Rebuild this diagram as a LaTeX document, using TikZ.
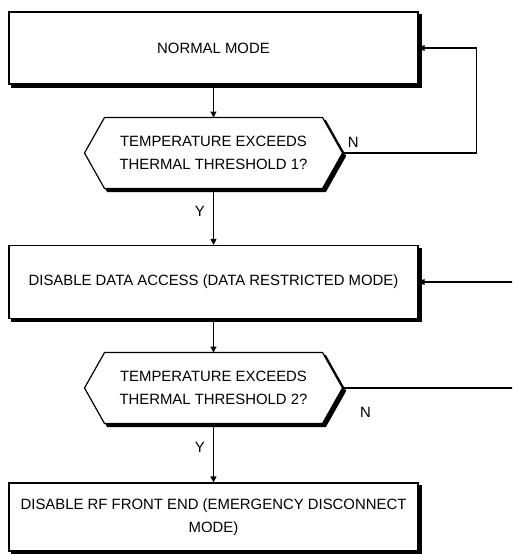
\documentclass[tikz,border=0pt]{standalone}
\usepackage{fontspec}
\setmainfont{Liberation Sans}
\usetikzlibrary{positioning}
\usetikzlibrary{arrows.meta}
\pgfdeclarelayer{background}
\pgfsetlayers{background,main}
\tikzset{	node distance=105pt,
	shadowed/.style={
		preaction={draw=black, fill=black, line width=1.2pt,
			transform canvas={xshift=3pt, yshift=-3pt}}},
	process/.style={
		draw,
		shadowed,
		line width=1.2pt,
		fill=white,
		minimum width=409pt,
		minimum height=72pt,
		font=\fontsize{14.9}{22.5}\selectfont,
		align=center},
	decision/.style={
		outer sep=0pt,
		minimum width=258pt,
		minimum height=71pt,
		font=\fontsize{14.9}{22.5}\selectfont,
		align=center},
	hexagon/.style={
		draw,
		shadowed,
		line width=1.2pt,
		fill=white},
	lbl/.style={
		inner sep=0pt,
		font=\fontsize{14.9}{18}\selectfont},
	flow/.style={
		draw,
		line width=1.2pt,
		-{Triangle[length=6pt,width=6pt]}}
}
\begin{document}
\begin{tikzpicture}
				\useasboundingbox (0,0) rectangle (512pt,-554pt);
				\clip (0,0) rectangle (512pt,-554pt);
				\node[process] (normal) at (213.5pt,-48pt) {NORMAL MODE};
				\node[decision, below of = normal] (check1) {TEMPERATURE EXCEEDS\\THERMAL THRESHOLD 1?};
				\node[process, node distance=129pt, minimum height=73pt, below of = check1] (restrict) {DISABLE DATA ACCESS (DATA RESTRICTED MODE)};
				\node[decision, node distance=106pt, below of = restrict] (check2) {TEMPERATURE EXCEEDS\\THERMAL THRESHOLD 2?};
				\node[process, node distance=129pt, minimum height=68pt, below of = check2] (disconnect) {DISABLE RF FRONT END (EMERGENCY DISCONNECT\\MODE)};
				% decision outlines behind the text
				\begin{pgfonlayer}{background}
				\foreach \n in {check1, check2} {
					\draw[hexagon] (\n.west) -- ([xshift=20pt]\n.north west) -- ([xshift=-20pt]\n.north east) -- (\n.east) -- ([xshift=-20pt]\n.south east) -- ([xshift=20pt]\n.south west) -- cycle;
				}
				\end{pgfonlayer}
				\draw[flow] (normal) -- (check1);
				\draw[flow] (check1) -- node[lbl, left=8pt, pos=0.4] {Y} (restrict);
				\draw[flow] (restrict) -- (check2);
				\draw[flow] (check2) -- node[lbl, left=8pt, pos=0.4] {Y} (disconnect);
				\draw[flow] (check1.east) -- node[lbl, pos=0.08, above=5pt] {N} ++(134pt,0) |- (normal.east);
				\draw[flow] (check2.east) -- node[lbl, pos=0.115, below=19pt] {N} ++(200pt,0) |- (restrict.east);
			\end{tikzpicture}
\end{document}
